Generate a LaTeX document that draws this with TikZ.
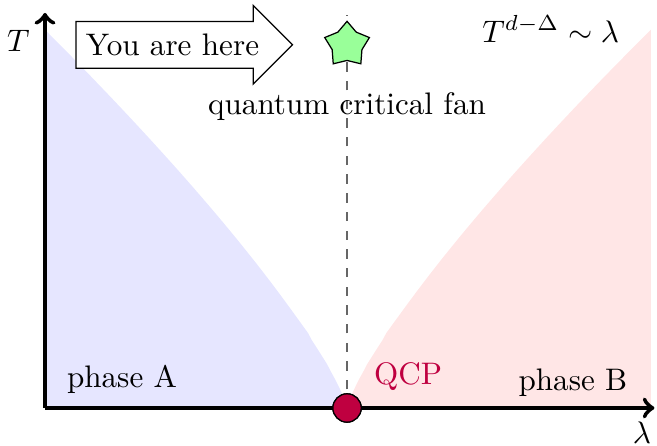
\documentclass[tikz,border=0pt]{standalone}
\usetikzlibrary{shapes.geometric,shapes.arrows}
\definecolor{FanBlue}{HTML}{E6E6FF}
\definecolor{FanRed}{HTML}{FFE6E6}
\definecolor{QcpPurple}{rgb}{0.75,0,0.25}

\begin{document}
\begin{tikzpicture}[x=1cm,y=1cm,
  axis/.style={->,line width=1.4pt},
  critline/.style={dashed,gray!80!black},
  qcpdot/.style={circle,draw=black,fill=QcpPurple,minimum size=0.32cm,inner sep=0pt},
  starmark/.style={star,star points=5,draw=black,fill=green!40,minimum size=0.53cm,inner sep=0pt},
  herearrow/.style={single arrow,draw=black,fill=white,single arrow head extend=0.18cm,
    inner xsep=3pt,inner ysep=3.8pt},
  label/.style={anchor=base}]
\useasboundingbox (-0.508,-0.418) rectangle (6.909,4.606);
% Phases on both sides of the critical point
\fill[FanBlue] (0,0) -- (0,4.27) -- plot[domain=0:3.40,samples=80] (\x,{4.27*((3.41-\x)/3.41)^0.8}) -- (3.41,0) -- cycle;
\fill[FanRed] (3.41,0) -- plot[domain=3.42:6.84,samples=80] (\x,{4.27*((\x-3.41)/3.43)^0.8}) -- (6.84,0) -- cycle;
% Axes and critical line
\coordinate (origin) at (0,0);
\coordinate (tend) at (0,4.46);
\coordinate (lend) at (6.88,0);
\coordinate (crittop) at (3.41,4.44);
\node[qcpdot] (qcp) at (3.41,0) {};
\draw[critline] (qcp.center) -- (crittop);
\draw[axis] (origin) -- (tend);
\draw[axis] (origin) -- (lend);
\node[qcpdot] at (qcp) {};
\node[starmark] (here) at (3.41,4.10) {};
\node (tlabel) at (-0.3,4.15) {$T$};
\node (llabel) at (6.74,-0.28) {$\lambda$};
% Labels
\node[herearrow] (youarehere) at (1.44,4.10) {You are here};
\node[label] (fan) at (3.41,3.31) {quantum critical fan};
\node[label] (scaling) at (5.71,4.13) {$T^{d-\Delta}\sim\lambda$};
\node[label] (phasea) at (0.87,0.226) {phase A};
\node[label] (phaseb) at (5.96,0.2) {phase B};
\node[label,text=QcpPurple] (qcplabel) at (4.10,0.26) {QCP};
\end{tikzpicture}
\end{document}
